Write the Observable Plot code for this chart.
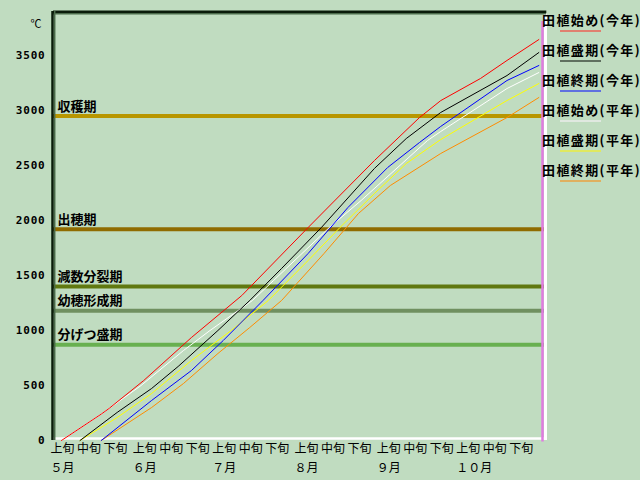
<!DOCTYPE html>
<html><head><meta charset="utf-8">
<script src="https://cdn.jsdelivr.net/npm/d3@7"></script>
<script src="https://cdn.jsdelivr.net/npm/@observablehq/plot@0.6"></script>
<style>
body{margin:0;background:#C0DCC0;}
#wrap{position:relative;width:640px;height:480px;overflow:hidden;}
#legend{position:absolute;left:541px;top:0;width:99px;height:200px;font-family:"Noto Sans CJK JP";font-weight:bold;font-size:13px;letter-spacing:1.4px;color:#000;}
.item{position:absolute;left:1px;white-space:nowrap;line-height:14px;}
.sw{position:absolute;left:19px;width:41px;height:2px;}
g[aria-label="y-axis tick label"] text{letter-spacing:0.8px;}
</style></head><body><div id="wrap"></div>
<script>
const year = "2003";
const parse = d3.utcParse("%Y-%m-%d");

// Series names (legend order)
const seriesNames = ["田植始め(今年)","田植盛期(今年)","田植終期(今年)","田植始め(平年)","田植盛期(平年)","田植終期(平年)"];
const seriesColors = ["#ff0000","#000000","#0000ff","#ffffff","#ffff00","#ff8c00"];
const swatchColors = ["#e08070","#607060","#6070e0","#e0e8e0","#e0e860","#e0b060"];

// 田植始め(今年)
const redDates  = ["05-04","05-19","05-22","06-04","06-22","07-11","08-05","08-30","09-16","09-24","10-09","10-19","10-31"];
const redValues = [0,240,292,545,936,1318,1936,2545,2936,3090,3291,3455,3645];
// 田植盛期(今年)
const blackDates  = ["05-11","05-25","06-07","06-17","07-02","07-14","07-26","08-10","08-30","09-11","09-24","10-19","10-31"];
const blackValues = [0,255,473,673,1000,1273,1564,1936,2473,2745,2982,3318,3527];
// 田植終期(今年)
const blueDates  = ["05-19","06-07","06-22","07-04","07-19","08-05","08-20","09-04","09-16","09-24","10-19","10-31"];
const blueValues = [0,364,636,909,1273,1700,2118,2482,2709,2855,3273,3409];
// 田植始め(平年)
const whiteDates  = ["05-04","05-19","06-03","06-19","06-29","07-15","07-23","08-13","08-25","09-19","09-24","10-19","10-31"];
const whiteValues = [0,240,500,818,1000,1273,1455,1936,2182,2727,2809,3200,3345];
// 田植盛期(平年)
const yellowDates  = ["05-11","05-25","06-07","06-22","07-07","07-21","08-05","08-17","08-30","09-11","09-24","10-19","10-31"];
const yellowValues = [0,209,427,727,1000,1273,1636,1936,2245,2518,2736,3091,3245];
// 田植終期(平年)
const orangeDates  = ["05-19","06-07","06-19","07-02","07-14","07-26","08-11","08-24","09-05","09-24","10-19","10-31"];
const orangeValues = [0,300,518,791,1027,1273,1700,2064,2318,2609,2936,3118];

// Growth stages
const phaseNames  = ["収穫期","出穂期","減数分裂期","幼穂形成期","分げつ盛期"];
const phaseValues = [2950,1920,1400,1180,870];
const phaseColors = ["#b89600","#906c00","#607810","#709060","#68b050"];

// Axis labels
const yTicks = [0,500,1000,1500,2000,2500,3000,3500];
const monthLabels = ["５月","６月","７月","８月","９月","１０月"];
const monthStarts = ["05-01","06-01","07-01","08-01","09-01","10-01"];
const junLabels = ["上旬","中旬","下旬"];
const junDays = ["01","11","21"];

const xStart = parse(year+"-05-01");
const xEnd = parse(year+"-11-01");
const xEdge = parse(year+"-11-03");

const allDates = [redDates,blackDates,blueDates,whiteDates,yellowDates,orangeDates];
const allValues = [redValues,blackValues,blueValues,whiteValues,yellowValues,orangeValues];
const series = allDates.map((ds,k)=>({
  name: seriesNames[k], color: seriesColors[k],
  data: ds.map((d,i)=>({date: parse(year+"-"+d), value: allValues[k][i]}))
}));

const periods = [];
monthStarts.forEach((m,i)=>junDays.forEach((d,j)=>periods.push({date: parse(year+"-"+m.slice(0,2)+"-"+d), label: junLabels[j]})));
const months = monthStarts.map((m,i)=>({date: parse(year+"-"+m), label: monthLabels[i]}));
const phases = phaseNames.map((n,i)=>({name:n, value: phaseValues[i], color: phaseColors[i]}));

const drawOrder = [3,4,5,0,1,2];

const chart = Plot.plot({
  width: 640, height: 480,
  marginLeft: 53, marginRight: 99, marginTop: 11, marginBottom: 40,
  style: {background: "#C0DCC0", fontFamily: "Noto Sans CJK JP", color: "#000", overflow: "visible"},
  x: {type: "utc", domain: [xStart, xEnd], axis: null},
  y: {domain: [0, 3900]},
  marks: [
    // stage bars
    ...phases.map(p => Plot.ruleY([p], {y: "value", x1: xStart, x2: xEdge, stroke: p.color, strokeWidth: 4})),
    Plot.text(phases, {x: xStart, y: "value", text: "name", dx: 4, dy: -9.5, textAnchor: "start", fontWeight: "bold", fontSize: 13}),
    // frame
    Plot.ruleY([0], {x1: xStart, x2: xEdge, stroke: "#ffffff", strokeWidth: 2.5, dy: -2}),
    Plot.ruleX([xEnd], {y1: 0, y2: 3882, stroke: "#ffffff", strokeWidth: 3, dx: 4}),
    Plot.ruleX([xEnd], {y1: -14, y2: 3809, stroke: "#e07ce0", strokeWidth: 2.5, dx: 1}),
    // series
    ...drawOrder.map(k => Plot.line(series[k].data, {x: "date", y: "value", stroke: series[k].color, strokeWidth: 1})),
    // left / top borders
    Plot.ruleY([3900], {x1: xStart, x2: xEdge, stroke: "#4a6a4a", strokeWidth: 1.5, dy: 2.3}),
    Plot.ruleY([3900], {x1: xStart, x2: xEdge, stroke: "#0a1c0a", strokeWidth: 2.5, dy: 0.3}),
    Plot.ruleX([xStart], {y1: 0, y2: 3900, stroke: "#4a6a4a", strokeWidth: 1.5, dx: 1.2}),
    Plot.ruleX([xStart], {y1: 0, y2: 3900, stroke: "#0a1c0a", strokeWidth: 2.5, dx: -1}),
    // axes
    Plot.axisY({ticks: yTicks, tickFormat: d => String(d), tickSize: 0, tickPadding: 8, fontWeight: "bold", fontSize: 11, fontFamily: "DejaVu Sans Mono", label: null}),
    Plot.text(["℃"], {text: d => d, frameAnchor: "top-left", dx: -23, dy: 9, fontSize: 11}),
    Plot.text(periods, {x: "date", text: "label", frameAnchor: "bottom", dx: -3, dy: 12.5, textAnchor: "start", fontSize: 12}),
    Plot.text(months, {x: "date", text: "label", frameAnchor: "bottom", dx: -3, dy: 31, textAnchor: "start", fontSize: 12})
  ]
});

const wrap = document.getElementById("wrap");
wrap.appendChild(chart);
const legend = document.createElement("div");
legend.id = "legend";
series.forEach((s,i)=>{
  const t = document.createElement("div");
  t.className = "item"; t.style.top = (13 + 30*i) + "px"; t.textContent = s.name;
  legend.appendChild(t);
  const sw = document.createElement("div");
  sw.className = "sw"; sw.style.top = (30 + 30*i) + "px"; sw.style.background = swatchColors[i];
  legend.appendChild(sw);
});
wrap.appendChild(legend);
</script></body></html>
